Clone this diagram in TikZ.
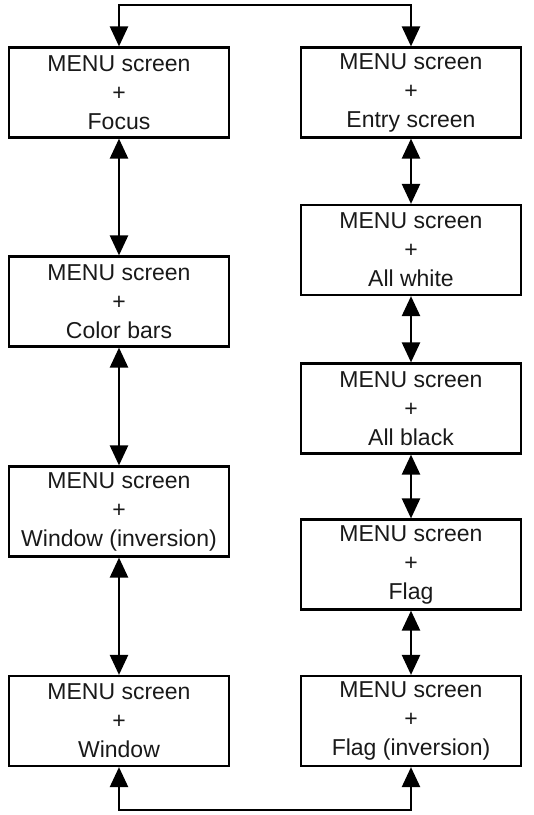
\documentclass[tikz,border=0pt]{standalone}
\usepackage{fontspec}
\setmainfont{Liberation Sans}
\usetikzlibrary{arrows.meta}

\tikzset{
	menubox/.style={draw,line width=2.2pt,minimum width=220pt,minimum height=90pt,align=center,inner sep=0pt,
		font=\fontsize{23}{29}\selectfont,text=black!90},
	link/.style={line width=2.4pt,{Triangle[width=18pt,length=20pt]}-{Triangle[width=18pt,length=20pt]}}
}

\begin{document}
\begin{tikzpicture}[x=1pt,y=-1pt]
	\useasboundingbox (0,0) rectangle (534,815);
	% left column
	\node[menubox] (focus) at (119,92.5) {MENU screen\\+\\Focus};
	\node[menubox] (bars) at (119,301.5) {MENU screen\\+\\Color bars};
	\node[menubox] (wininv) at (119,511.5) {MENU screen\\+\\Window (inversion)};
	\node[menubox] (win) at (119,721) {MENU screen\\+\\Window};

	% right column
	\node[menubox] (entry) at (411,92.5) {MENU screen\\+\\Entry screen};
	\node[menubox] (white) at (411,250) {MENU screen\\+\\All white};
	\node[menubox] (black) at (411,408.5) {MENU screen\\+\\All black};
	\node[menubox] (flag) at (411,564.5) {MENU screen\\+\\Flag};
	\node[menubox] (flaginv) at (411,721) {MENU screen\\+\\Flag (inversion)};

	\coordinate (topline) at (265,5);
	\coordinate (botline) at (265,810);

	\draw[link] (focus) -- (bars);
	\draw[link] (bars) -- (wininv);
	\draw[link] (wininv) -- (win);
	\draw[link] (entry) -- (white);
	\draw[link] (white) -- (black);
	\draw[link] (black) -- (flag);
	\draw[link] (flag) -- (flaginv);
	\draw[link] (focus.north) |- (topline) -| (entry.north);
	\draw[link] (win.south) |- (botline) -| (flaginv.south);
\end{tikzpicture}
\end{document}
